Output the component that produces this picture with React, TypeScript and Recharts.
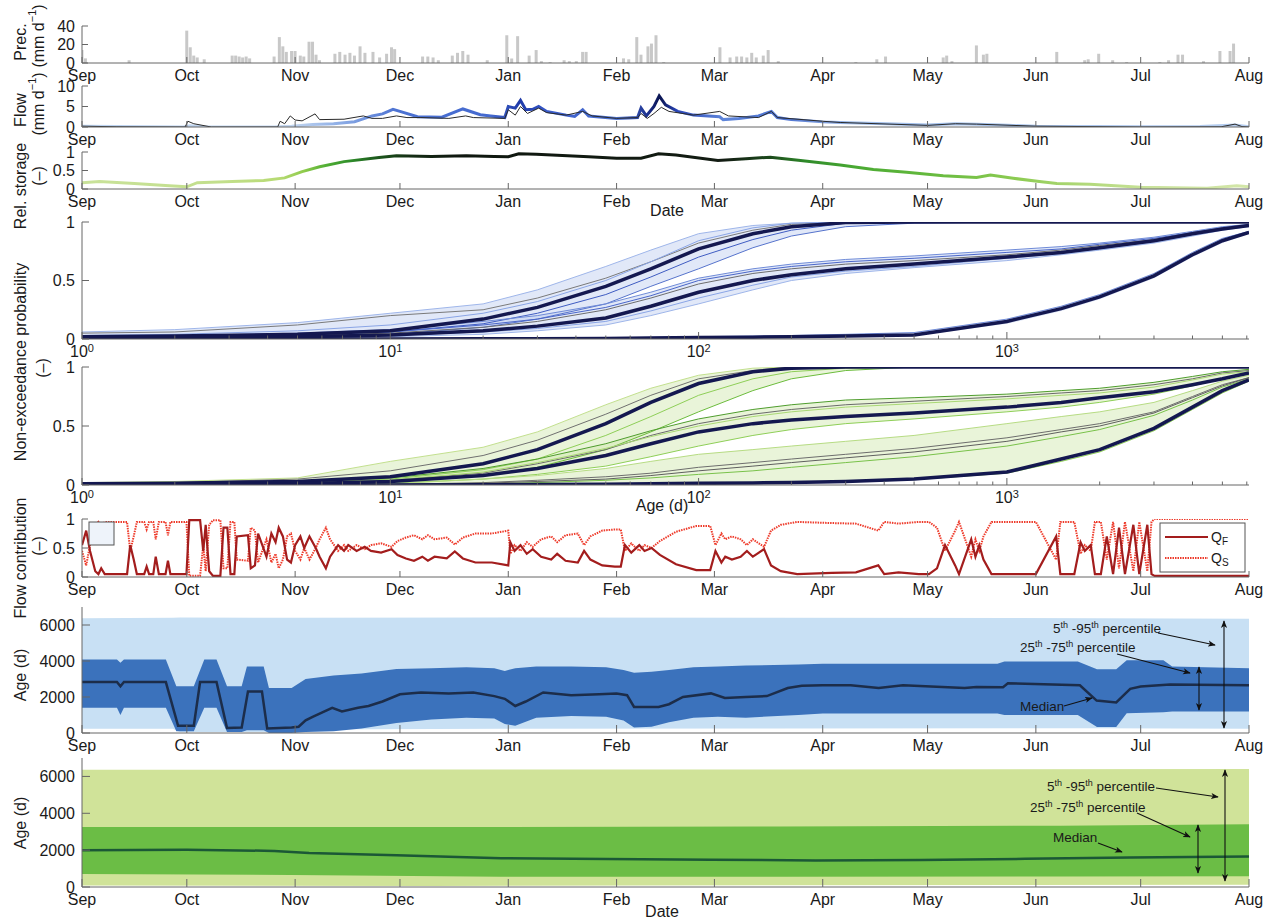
import React from "react";
import { ComposedChart, Line, Area, Bar, XAxis, YAxis } from "recharts";

const FONT = "'Liberation Sans', Arial, Helvetica, sans-serif";
const AXIS = "#666666";
const INK = "#1a1a1a";
const W = 1270;
const H = 918;
const LEFT = 82;
const RIGHT = 21;
const PAD_T = 8;
const X_H = 26;
const GAP_X = 7;
const GAP_Y = 7;

// ---------- axes ----------
const monthTicks = [0, 30, 61, 91, 122, 153, 181, 212, 242, 273, 303, 334];
const monthLabels = ["Sep", "Oct", "Nov", "Dec", "Jan", "Feb", "Mar", "Apr", "May", "Jun", "Jul", "Aug"];
const ageMajor = [1, 10, 100, 1000];
const ageExponents = ["0", "1", "2", "3"];
const ageTicks = [
  1, 2, 3, 4, 5, 6, 7, 8, 9, 10, 20, 30, 40, 50, 60, 70, 80, 90, 100, 200, 300, 400, 500, 600, 700, 800, 900,
  1000, 2000, 3000, 4000, 5000, 6000,
];

// ---------- panel 1: precipitation (day, mm/d) ----------
const precipitation = [
  [0, 14], [1, 5], [13.5, 3], [30, 35], [31, 17], [32, 8], [33, 6], [35, 4],
  [43, 8], [44, 8], [45, 7], [46, 6], [47, 7], [48, 5],
  [55, 7], [56.5, 28], [57.5, 18], [58.5, 12], [60, 13], [61, 13], [62.5, 8], [63.5, 7], [65, 23], [66, 23], [67, 9], [68, 3],
  [72.4, 10], [73.8, 12], [75.3, 9], [76.7, 11], [78, 8], [79.6, 18], [81, 11], [83.3, 12], [85.2, 6], [87.2, 10], [88.6, 17], [89.5, 15],
  [97.5, 7], [99, 7], [100.5, 6], [102, 3], [106, 8], [107.5, 11], [109, 13], [110.5, 9], [116, 3],
  [121.6, 30], [123, 5], [124.7, 29], [128, 8], [130, 14], [131.5, 2], [134, 1], [138, 3], [139.5, 2], [141.5, 2], [143.3, 12], [144.3, 12],
  [155, 5], [156.5, 4], [158.8, 28], [160, 9], [162, 18], [163, 21], [164.3, 30], [166.5, 1],
  [182.6, 17], [185.5, 6], [187.4, 7], [188.8, 7], [190.3, 6], [191.7, 11], [193, 6], [195, 8], [196.4, 14], [199.3, 2],
  [221.5, 1], [227.5, 4], [230, 7], [246.5, 6], [247.5, 8], [249, 2], [256, 19], [258, 9], [259, 10],
  [279, 12], [287, 3], [288, 4], [291, 10], [295, 3], [299, 1], [308.5, 1], [311, 3], [313.7, 9], [315, 9], [321, 2],
  [325.7, 13], [328.6, 13], [329.6, 21],
];

// ---------- panel 2: flow (day, mm/d) ----------
const flowSimulated = [
  [0, 0.2], [10, 0.1], [29, 0], [31, 0.3], [35, 0.05], [55, 0], [60, 0.2], [66, 0.6], [72, 0.8], [78, 1.3], [83, 2.7],
  [86, 3.2], [89, 4.3], [91, 3.8], [96, 2.5], [103, 2.4], [109, 4.4], [114, 3], [117, 2.7], [121, 2.3], [122, 5],
  [124, 4.6], [125.5, 6.5], [127, 4.2], [129, 4.3], [130.7, 5], [133, 3.8], [138.6, 2.9], [141, 2.6], [143.3, 4.2],
  [145, 2.7], [153, 2.1], [159, 2.3], [160, 4.6], [161.5, 2.7], [163.7, 5], [165.2, 7.6], [167, 5.4], [170.5, 3.8],
  [175, 2.9], [182.5, 2.5], [183.5, 1.8], [188, 2.1], [193.6, 2.7], [197.3, 3.8], [199, 2.3], [203, 1.8], [212, 1.25],
  [217, 1.1], [230, 0.8], [242, 0.5], [250, 0.8], [256, 0.7], [265, 0.4], [273, 0.2], [290, 0.1], [303, 0.05],
  [320, 0.1], [330, 0.5], [334, 0.05],
];
const flowObserved = [
  [0, 0.2], [10, 0.05], [29.5, 0], [30.3, 1.4], [32, 0.8], [37, 0], [56, 0], [56.7, 1.4], [58, 0.8], [59.6, 2.7],
  [61, 1.7], [63, 1.5], [66.7, 3.2], [68, 1.8], [75, 1.9], [80.5, 2.7], [83, 2.1], [86, 2.1], [90, 2.7], [93, 2.3],
  [97, 2.3], [105, 2.1], [109.8, 2.7], [112, 2.3], [121, 2.1], [122, 4.2], [124, 2.9], [125.5, 5], [127.5, 3.3],
  [130.7, 4.6], [133, 3.5], [138.6, 2.9], [143.3, 3.8], [146, 2.7], [153, 2.1], [159, 2.3], [160, 3.3], [161.8, 2.1],
  [163.7, 3.3], [165.8, 4.8], [168, 3.8], [175, 2.9], [182.5, 3.8], [185, 2.7], [193.6, 2.3], [197.3, 3.8], [199, 2.3],
  [212, 1.4], [217, 1.1], [242, 0.4], [250, 0.8], [256, 0.7], [273, 0.2], [303, 0], [326, 0.05], [330, 0.7],
  [332, 0.1], [334, 0],
];

// ---------- panel 3: relative storage (day, -) ----------
const relStorage = [
  [0, 0.17], [5, 0.2], [15, 0.15], [25, 0.09], [30, 0.06], [33, 0.17], [43, 0.2], [52, 0.23], [58, 0.3], [63, 0.47],
  [68, 0.6], [75, 0.74], [85, 0.85], [90, 0.9], [100, 0.88], [110, 0.9], [118, 0.88], [122, 0.87], [125, 0.95],
  [130, 0.94], [145, 0.87], [153, 0.83], [160, 0.83], [165, 0.95], [170, 0.92], [182, 0.77], [190, 0.82], [197, 0.86],
  [205, 0.78], [212, 0.7], [217, 0.65], [226.5, 0.53], [236, 0.45], [246.5, 0.36], [256, 0.31], [260, 0.38],
  [266.5, 0.29], [274, 0.2], [279, 0.15], [288.5, 0.13], [303, 0.05], [322, 0.02], [330.5, 0.09], [334, 0.06],
];

// ---------- panels 4-5: non-exceedance probability vs age ----------
const ageGrid = [1, 2, 5, 10, 20, 30, 50, 70, 100, 150, 200, 300, 500, 1000, 1500, 2000, 3000, 4000, 5000, 6100];

const nepBlueA = [0.02, 0.025, 0.04, 0.07, 0.17, 0.27, 0.45, 0.6, 0.77, 0.9, 0.96, 0.995, 1, 1, 1, 1, 1, 1, 1, 1];
const nepBlueAHi = [0.06, 0.08, 0.14, 0.22, 0.3, 0.42, 0.62, 0.76, 0.9, 0.97, 0.99, 1, 1, 1, 1, 1, 1, 1, 1, 1];
const nepBlueALo = [0.01, 0.015, 0.025, 0.04, 0.1, 0.17, 0.3, 0.45, 0.6, 0.78, 0.88, 0.96, 0.99, 1, 1, 1, 1, 1, 1, 1];
const nepBlueAGrey = [0.05, 0.06, 0.12, 0.2, 0.25, 0.35, 0.52, 0.66, 0.82, 0.93, 0.98, 1, 1, 1, 1, 1, 1, 1, 1, 1];
const nepBlueAMid1 = [0.03, 0.04, 0.07, 0.12, 0.22, 0.32, 0.5, 0.66, 0.84, 0.95, 0.99, 1, 1, 1, 1, 1, 1, 1, 1, 1];
const nepBlueAMid2 = [0.015, 0.02, 0.035, 0.06, 0.13, 0.22, 0.38, 0.53, 0.7, 0.85, 0.93, 0.99, 1, 1, 1, 1, 1, 1, 1, 1];
const nepBlueB = [0.01, 0.012, 0.02, 0.035, 0.07, 0.11, 0.18, 0.28, 0.4, 0.5, 0.55, 0.6, 0.64, 0.7, 0.74, 0.78, 0.84, 0.9, 0.94, 0.97];
const nepBlueBHi = [0.02, 0.03, 0.05, 0.08, 0.15, 0.2, 0.3, 0.4, 0.52, 0.6, 0.64, 0.68, 0.71, 0.76, 0.79, 0.82, 0.87, 0.92, 0.96, 0.98];
const nepBlueBLo = [0, 0.005, 0.01, 0.02, 0.04, 0.07, 0.12, 0.2, 0.3, 0.42, 0.5, 0.56, 0.61, 0.67, 0.72, 0.76, 0.82, 0.88, 0.93, 0.96];
const nepBlueBGrey = [0.01, 0.02, 0.03, 0.05, 0.1, 0.15, 0.25, 0.35, 0.47, 0.56, 0.6, 0.64, 0.67, 0.72, 0.76, 0.8, 0.85, 0.91, 0.95, 0.97];
const nepBlueBMid1 = [0.015, 0.02, 0.04, 0.06, 0.12, 0.17, 0.27, 0.37, 0.5, 0.58, 0.62, 0.66, 0.69, 0.74, 0.77, 0.81, 0.86, 0.91, 0.95, 0.975];
const nepBlueBMid2 = [0.005, 0.01, 0.015, 0.03, 0.06, 0.09, 0.15, 0.24, 0.35, 0.46, 0.53, 0.58, 0.62, 0.69, 0.73, 0.77, 0.83, 0.89, 0.935, 0.965];
const nepBlueC = [0, 0, 0, 0.001, 0.002, 0.003, 0.005, 0.008, 0.012, 0.015, 0.02, 0.025, 0.035, 0.15, 0.26, 0.36, 0.54, 0.72, 0.84, 0.91];
const nepBlueCHi = [0, 0, 0, 0.002, 0.004, 0.006, 0.01, 0.014, 0.02, 0.025, 0.03, 0.04, 0.055, 0.17, 0.28, 0.38, 0.56, 0.74, 0.86, 0.92];
const nepBlueCLo = [0, 0, 0, 0, 0, 0, 0.002, 0.004, 0.006, 0.008, 0.01, 0.015, 0.025, 0.13, 0.24, 0.34, 0.52, 0.7, 0.82, 0.9];

const nepGreenA = [0.01, 0.015, 0.03, 0.07, 0.18, 0.3, 0.52, 0.7, 0.86, 0.96, 0.99, 1, 1, 1, 1, 1, 1, 1, 1, 1];
const nepGreenAHi = [0.02, 0.03, 0.06, 0.2, 0.32, 0.45, 0.68, 0.82, 0.93, 0.99, 1, 1, 1, 1, 1, 1, 1, 1, 1, 1];
const nepGreenALo = [0, 0.005, 0.01, 0.03, 0.08, 0.15, 0.3, 0.45, 0.62, 0.8, 0.9, 0.97, 1, 1, 1, 1, 1, 1, 1, 1];
const nepGreenAGrey = [0.01, 0.02, 0.05, 0.12, 0.25, 0.38, 0.6, 0.76, 0.9, 0.97, 1, 1, 1, 1, 1, 1, 1, 1, 1, 1];
const nepGreenAMid = [0.005, 0.01, 0.02, 0.05, 0.13, 0.22, 0.42, 0.58, 0.76, 0.9, 0.96, 0.99, 1, 1, 1, 1, 1, 1, 1, 1];
const nepGreenB = [0, 0.005, 0.01, 0.03, 0.08, 0.14, 0.25, 0.35, 0.45, 0.52, 0.55, 0.58, 0.61, 0.66, 0.7, 0.74, 0.79, 0.85, 0.9, 0.95];
const nepGreenBHi = [0.01, 0.01, 0.03, 0.06, 0.14, 0.22, 0.35, 0.46, 0.56, 0.64, 0.68, 0.72, 0.74, 0.77, 0.8, 0.82, 0.87, 0.92, 0.96, 0.98];
const nepGreenBLo = [0, 0, 0.005, 0.015, 0.05, 0.09, 0.16, 0.24, 0.33, 0.42, 0.47, 0.52, 0.56, 0.62, 0.66, 0.7, 0.77, 0.84, 0.9, 0.94];
const nepGreenBGrey = [0, 0.01, 0.02, 0.04, 0.1, 0.18, 0.3, 0.42, 0.52, 0.6, 0.64, 0.68, 0.71, 0.75, 0.78, 0.8, 0.85, 0.9, 0.95, 0.97];
const nepGreenBMid = [0, 0.005, 0.015, 0.04, 0.11, 0.19, 0.31, 0.41, 0.5, 0.58, 0.62, 0.66, 0.69, 0.73, 0.76, 0.78, 0.83, 0.89, 0.94, 0.96];
const nepGreenC = [0, 0, 0, 0, 0.002, 0.004, 0.006, 0.01, 0.014, 0.018, 0.022, 0.03, 0.05, 0.11, 0.22, 0.3, 0.48, 0.66, 0.8, 0.89];
const nepGreenCHi = [0, 0, 0.005, 0.01, 0.05, 0.08, 0.14, 0.2, 0.26, 0.3, 0.33, 0.37, 0.42, 0.52, 0.58, 0.62, 0.7, 0.8, 0.88, 0.93];
const nepGreenCLo = [0, 0, 0, 0, 0.001, 0.002, 0.004, 0.006, 0.01, 0.014, 0.018, 0.025, 0.045, 0.1, 0.2, 0.28, 0.46, 0.64, 0.78, 0.88];
const nepGreenCGrey = [0, 0, 0.002, 0.005, 0.02, 0.04, 0.07, 0.1, 0.15, 0.19, 0.22, 0.26, 0.31, 0.4, 0.47, 0.52, 0.62, 0.75, 0.85, 0.91];
const nepGreenCGrey2 = [0, 0, 0, 0.002, 0.01, 0.02, 0.04, 0.06, 0.09, 0.12, 0.15, 0.19, 0.24, 0.33, 0.41, 0.47, 0.59, 0.72, 0.83, 0.9];
const nepGreenCMid = [0, 0, 0.001, 0.003, 0.015, 0.03, 0.05, 0.08, 0.12, 0.16, 0.19, 0.23, 0.28, 0.37, 0.45, 0.5, 0.61, 0.74, 0.84, 0.91];

// ---------- panel 6: flow contribution (day, QF, QS) ----------
const flowContribution = [
  [0, 0.55, 0.45], [1.2, 0.8, 0.2], [2.3, 0.45, 0.55], [3.8, 0.1, 0.9], [4.7, 0.05, 0.95], [5.5, 0.15, 0.85],
  [6.5, 0.05, 0.95], [12.9, 0.05, 0.95], [13.8, 0.55, 0.45], [14.8, 0.3, 0.7], [15.7, 0.05, 0.95], [17.8, 0.05, 0.95],
  [18.5, 0.18, 0.82], [19.2, 0.05, 0.95], [20.4, 0.05, 0.95], [21.1, 0.35, 0.65], [22, 0.05, 0.95], [23.9, 0.05, 0.95],
  [24.6, 0.28, 0.72], [25.3, 0.05, 0.95], [29.9, 0.05, 0.95], [30.7, 0.98, 0.02], [33.8, 0.98, 0.02], [34.7, 0.45, 0.55],
  [35.4, 0.9, 0.1], [36.4, 0.1, 0.9], [37.5, 0.02, 0.98], [39.6, 0.02, 0.98], [40.5, 0.85, 0.15], [41.6, 0.85, 0.15],
  [42.5, 0.05, 0.95], [43.6, 0.05, 0.95], [44.3, 0.7, 0.3], [47.5, 0.72, 0.28], [48.3, 0.15, 0.85], [49.5, 0.2, 0.8],
  [50.4, 0.75, 0.25], [51.6, 0.55, 0.45], [52.8, 0.35, 0.65], [54.2, 0.75, 0.25], [55.4, 0.6, 0.4], [56.3, 0.85, 0.15],
  [57.5, 0.7, 0.3], [58.7, 0.3, 0.7], [59.8, 0.25, 0.75], [61, 0.55, 0.45], [62.5, 0.7, 0.3], [63.6, 0.5, 0.5],
  [65.1, 0.7, 0.3], [66.9, 0.5, 0.5], [68, 0.35, 0.65], [69.8, 0.15, 0.85], [71, 0.35, 0.65], [73.3, 0.55, 0.45],
  [75, 0.45, 0.55], [76.2, 0.55, 0.45], [78.6, 0.45, 0.55], [80.9, 0.52, 0.48], [82.7, 0.45, 0.55], [85.6, 0.42, 0.58],
  [88.6, 0.48, 0.52], [90.3, 0.38, 0.62], [92.7, 0.32, 0.68], [95, 0.28, 0.72], [97.4, 0.35, 0.65], [99, 0.28, 0.72],
  [100.9, 0.35, 0.65], [104.4, 0.32, 0.68], [106.7, 0.44, 0.56], [109, 0.32, 0.68], [112.6, 0.25, 0.75],
  [117.3, 0.25, 0.75], [122, 0.2, 0.8], [122.6, 0.6, 0.4], [123.8, 0.45, 0.55], [125.5, 0.55, 0.45], [127.3, 0.4, 0.6],
  [129, 0.48, 0.52], [131.4, 0.35, 0.65], [134.3, 0.3, 0.7], [136, 0.4, 0.6], [138.4, 0.28, 0.72], [141.9, 0.25, 0.75],
  [143.7, 0.45, 0.55], [145.5, 0.3, 0.7], [148.9, 0.2, 0.8], [152.5, 0.18, 0.82], [154.2, 0.18, 0.82],
  [155.4, 0.55, 0.45], [157.2, 0.42, 0.58], [159.5, 0.55, 0.45], [161, 0.45, 0.55], [163, 0.5, 0.5], [165.4, 0.38, 0.62],
  [170, 0.22, 0.78], [175.8, 0.12, 0.88], [179.8, 0.12, 0.88], [181.3, 0.45, 0.55], [183, 0.25, 0.75], [184.1, 0.35, 0.65],
  [186, 0.3, 0.7], [188.5, 0.35, 0.65], [190.3, 0.45, 0.55], [192, 0.35, 0.65], [193.2, 0.4, 0.6], [195.2, 0.48, 0.52],
  [197.2, 0.2, 0.8], [200, 0.1, 0.9], [204.7, 0.05, 0.95], [214.6, 0.07, 0.93], [221.5, 0.08, 0.92], [227.9, 0.2, 0.8],
  [229.6, 0.05, 0.95], [233.7, 0.08, 0.92], [239.5, 0.05, 0.95], [242.4, 0.05, 0.95], [244.7, 0.15, 0.85],
  [247, 0.55, 0.45], [249.9, 0.2, 0.8], [251, 0.05, 0.95], [254.5, 0.65, 0.35], [255.7, 0.35, 0.65], [256.8, 0.55, 0.45],
  [258, 0.3, 0.7], [260.3, 0.05, 0.95], [273, 0.05, 0.95], [278.8, 0.7, 0.3], [280, 0.05, 0.95], [284, 0.05, 0.95],
  [285.8, 0.6, 0.4], [287, 0.45, 0.55], [288.7, 0.55, 0.45], [289.9, 0.05, 0.95], [291.6, 0.05, 0.95], [293.3, 0.7, 0.3],
  [295.1, 0.05, 0.95], [296.8, 0.85, 0.15], [298.5, 0.05, 0.95], [300.9, 0.9, 0.1], [302.6, 0.05, 0.95], [304.9, 0.9, 0.1],
  [306.1, 0.05, 0.95], [307, 0.02, 1], [334, 0.02, 1],
];

// ---------- panel 7: age percentiles, blue (day, low, high) ----------
const blueOuter = [
  [0, 240, 6380], [26, 240, 6400], [28, 60, 6420], [58, 50, 6400], [62, 200, 6400], [120, 230, 6420], [200, 250, 6400],
  [290, 260, 6380], [334, 240, 6350],
];
const blueInner = [
  [0, 1400, 4080], [10, 1400, 4080], [11, 1000, 3900], [12, 1400, 4080], [24, 1400, 4080], [27, 100, 2600],
  [32, 100, 2600], [35, 1400, 4080], [38.5, 1400, 4080], [41.5, 50, 2600], [45.7, 50, 2600], [47.2, 150, 3700],
  [52, 150, 3700], [53.5, 0, 2500], [60, 0, 2500], [64, 50, 3000], [72, 100, 3200], [80, 250, 3300], [90, 550, 3550],
  [100, 750, 3600], [110, 850, 3650], [118, 800, 3600], [121, 500, 3450], [124, 400, 3600], [130, 850, 3700],
  [140, 950, 3700], [150, 900, 3650], [155, 700, 3500], [158, 300, 3350], [163, 350, 3400], [168, 600, 3500],
  [175, 850, 3650], [182, 900, 3700], [190, 850, 3750], [205, 1000, 3800], [212, 1080, 3850], [230, 1080, 3850],
  [262, 1080, 3850], [264, 1000, 3970], [285, 1000, 3970], [290.5, 330, 3540], [296, 330, 3540], [299, 1100, 4040],
  [309.5, 1150, 4040], [312, 1200, 3700], [334, 1200, 3600],
];
const blueMedian = [
  [0, 2830], [10, 2830], [11, 2600], [12, 2830], [24, 2830], [27.5, 400], [32, 400], [33.8, 2830], [38.5, 2830],
  [41.5, 280], [45.7, 300], [47.5, 2300], [51.5, 2300], [53, 250], [60, 300], [62, 350], [64, 700], [66, 900],
  [71.6, 1400], [74.4, 1200], [79, 1400], [82, 1500], [86, 1750], [91, 2150], [97, 2250], [105, 2200], [112, 2250],
  [118, 2050], [121, 1900], [124, 1500], [127, 1750], [132, 2250], [140, 2100], [148, 2150], [153, 2200], [156, 2100],
  [158, 1450], [165, 1450], [168, 1600], [172, 2000], [180, 2200], [184, 1950], [190, 2000], [196, 2050], [202, 2500],
  [206, 2620], [212, 2650], [220, 2650], [228, 2500], [235, 2650], [252.6, 2500], [256, 2550], [263.6, 2540],
  [265, 2760], [285.6, 2650], [290.4, 1800], [296, 1700], [300, 2450], [303, 2580], [311.4, 2700], [334, 2650],
];

// ---------- panel 8: age percentiles, green ----------
const greenOuter = [[0, 80, 6360], [100, 60, 6370], [200, 100, 6380], [334, 120, 6400]];
const greenInner = [[0, 700, 3250], [60, 650, 3250], [120, 560, 3250], [200, 560, 3280], [280, 570, 3330], [334, 580, 3400]];
const greenMedian = [
  [0, 2000], [30, 2020], [55, 1960], [65, 1850], [90, 1720], [120, 1560], [150, 1520], [180, 1480], [210, 1440],
  [240, 1460], [270, 1530], [300, 1600], [334, 1660],
];

// ---------- helpers ----------
const series = (rows: number[][], col = 1) => rows.map((r) => ({ x: r[0], y: r[col] }));
const bandOf = (rows: number[][]) => rows.map((r) => ({ x: r[0], band: [r[1], r[2]] }));
const onGrid = (ys: number[]) => ys.map((y, i) => ({ x: ageGrid[i], y }));
const bandOnGrid = (lo: number[], hi: number[]) => ageGrid.map((x, i) => ({ x, band: [lo[i], hi[i]] }));

const precData = precipitation.map(([x, p]) => ({ x, p }));

function bottomTick(kind: string, len: number) {
  return (p: any) => {
    const v = p.payload.value;
    const major = kind === "date" || ageMajor.includes(v);
    const axisY = p.y - GAP_X;
    return (
      <g>
        <line x1={p.x} x2={p.x} y1={axisY} y2={axisY - (major ? len : len / 2)} stroke={AXIS} />
        {major && (
          <text x={p.x} y={p.y} dy="0.71em" textAnchor="middle" fontSize={16} fontFamily={FONT} fill={INK}>
            {kind === "date" ? (
              monthLabels[monthTicks.indexOf(v)]
            ) : (
              <>
                10
                <tspan dy="-0.45em" fontSize={11}>
                  {ageExponents[ageMajor.indexOf(v)]}
                </tspan>
              </>
            )}
          </text>
        )}
      </g>
    );
  };
}

function topTick(kind: string, len: number) {
  return (p: any) => {
    const major = kind === "date" || ageMajor.includes(p.payload.value);
    return <line x1={p.x} x2={p.x} y1={p.y} y2={p.y + (major ? len : len / 2)} stroke={AXIS} />;
  };
}

function leftTick(len: number) {
  return (p: any) => {
    const ax = p.x + GAP_Y;
    return (
      <g>
        <line x1={ax} x2={ax + len} y1={p.y} y2={p.y} stroke={AXIS} />
        <text x={p.x} y={p.y} dy="0.36em" textAnchor="end" fontSize={16} fontFamily={FONT} fill={INK}>
          {p.payload.value}
        </text>
      </g>
    );
  };
}

function rightTick(len: number) {
  return (p: any) => <line x1={p.x} x2={p.x - len} y1={p.y} y2={p.y} stroke={AXIS} />;
}

function frame(log: boolean, yDomain: number[], yTicks: number[], len = 6) {
  const kind = log ? "log" : "date";
  const xp: any = log
    ? { scale: "log", domain: [1, 6100], ticks: ageTicks }
    : { scale: "linear", domain: [0, 334], ticks: monthTicks };
  const common: any = { tickSize: 0, tickLine: false, axisLine: { stroke: AXIS }, interval: 0, allowDataOverflow: true, type: "number" };
  return [
    <XAxis key="xb" dataKey="x" {...common} {...xp} height={X_H} tickMargin={GAP_X} tick={bottomTick(kind, len)} />,
    <XAxis key="xt" xAxisId="top" orientation="top" dataKey="x" {...common} {...xp} height={0} tickMargin={0} tick={topTick(kind, len)} />,
    <YAxis key="yl" {...common} domain={yDomain} ticks={yTicks} width={LEFT} tickMargin={GAP_Y} tick={leftTick(len)} />,
    <YAxis key="yr" yAxisId="right" orientation="right" {...common} domain={yDomain} ticks={yTicks} width={0} tickMargin={0} tick={rightTick(len)} />,
  ];
}

function Panel({ top, bottom, data, children }: any) {
  const h = bottom - top + PAD_T + X_H;
  return (
    <div style={{ position: "absolute", left: 0, top: top - PAD_T }}>
      <ComposedChart width={W} height={h} data={data} margin={{ top: PAD_T, right: RIGHT, bottom: 0, left: 0 }}>
        {children}
      </ComposedChart>
    </div>
  );
}

const line = (key: string, data: any[], stroke: string, width: number, extra: any = {}) => (
  <Line
    key={key}
    data={data}
    dataKey="y"
    type="linear"
    stroke={stroke}
    strokeWidth={width}
    dot={false}
    activeDot={false}
    isAnimationActive={false}
    {...extra}
  />
);

const band = (key: string, data: any[], fill: string, opacity = 1) => (
  <Area
    key={key}
    data={data}
    dataKey="band"
    type="linear"
    stroke="none"
    fill={fill}
    fillOpacity={opacity}
    dot={false}
    activeDot={false}
    isAnimationActive={false}
  />
);

const NAVY = "#141850";

function nepSeries(prefix: string, green: boolean) {
  if (!green) {
    return [
      band(prefix + "ba", bandOnGrid(nepBlueALo, nepBlueAHi), "#b4c6ee", 0.4),
      band(prefix + "bb", bandOnGrid(nepBlueBLo, nepBlueBHi), "#b4c6ee", 0.4),
      band(prefix + "bc", bandOnGrid(nepBlueCLo, nepBlueCHi), "#b4c6ee", 0.5),
      line(prefix + "a1", onGrid(nepBlueAHi), "#9fb6ea", 1),
      line(prefix + "a2", onGrid(nepBlueALo), "#5673cc", 1),
      line(prefix + "a3", onGrid(nepBlueAGrey), "#7a7a7a", 1),
      line(prefix + "a4", onGrid(nepBlueAMid1), "#8aa5e6", 1),
      line(prefix + "a5", onGrid(nepBlueAMid2), "#3f5cc2", 1),
      line(prefix + "b1", onGrid(nepBlueBHi), "#6f8bd8", 1),
      line(prefix + "b2", onGrid(nepBlueBLo), "#9fb6ea", 1),
      line(prefix + "b3", onGrid(nepBlueBGrey), "#6d6d6d", 1),
      line(prefix + "b4", onGrid(nepBlueBMid1), "#4a66c8", 1),
      line(prefix + "b5", onGrid(nepBlueBMid2), "#8aa5e6", 1),
      line(prefix + "c1", onGrid(nepBlueCHi), "#6f8bd8", 1),
      line(prefix + "ta", onGrid(nepBlueA), NAVY, 3.5),
      line(prefix + "tb", onGrid(nepBlueB), NAVY, 3.5),
      line(prefix + "tc", onGrid(nepBlueC), NAVY, 3.5),
    ];
  }
  return [
    band(prefix + "ba", bandOnGrid(nepGreenALo, nepGreenAHi), "#cfe7aa", 0.45),
    band(prefix + "bb", bandOnGrid(nepGreenBLo, nepGreenBHi), "#cfe7aa", 0.45),
    band(prefix + "bc", bandOnGrid(nepGreenCLo, nepGreenCHi), "#cfe7aa", 0.45),
    line(prefix + "a1", onGrid(nepGreenAHi), "#c3e08f", 1),
    line(prefix + "a2", onGrid(nepGreenALo), "#6cbc3c", 1),
    line(prefix + "a3", onGrid(nepGreenAGrey), "#707070", 1),
    line(prefix + "a4", onGrid(nepGreenAMid), "#8fcf58", 1),
    line(prefix + "b1", onGrid(nepGreenBHi), "#4f9d2e", 1),
    line(prefix + "b2", onGrid(nepGreenBLo), "#8fcf58", 1),
    line(prefix + "b3", onGrid(nepGreenBGrey), "#6a6a6a", 1),
    line(prefix + "b4", onGrid(nepGreenBMid), "#a9d874", 1),
    line(prefix + "c1", onGrid(nepGreenCHi), "#b7dc84", 1),
    line(prefix + "c2", onGrid(nepGreenCGrey), "#6d6d6d", 1),
    line(prefix + "c3", onGrid(nepGreenCGrey2), "#79c24a", 1),
    line(prefix + "c4", onGrid(nepGreenCLo), "#8fcf58", 1),
    line(prefix + "c5", onGrid(nepGreenCMid), "#5f5f5f", 1),
    line(prefix + "ta", onGrid(nepGreenA), NAVY, 3.5),
    line(prefix + "tb", onGrid(nepGreenB), NAVY, 3.5),
    line(prefix + "tc", onGrid(nepGreenC), NAVY, 3.5),
  ];
}

function SupText({ x, y, parts }: { x: number; y: number; parts: [string, string][] }) {
  return (
    <text x={x} y={y} fontSize={13.5} fontFamily={FONT} fill={INK}>
      {parts.map(([base, sup], i) => (
        <React.Fragment key={i}>
          <tspan dy={i === 0 ? 0 : 5}>{base}</tspan>
          {sup && (
            <tspan dy={-5} fontSize={9}>
              {sup}
            </tspan>
          )}
        </React.Fragment>
      ))}
    </text>
  );
}

function Overlay() {
  const rot = (x: number, y: number, content: React.ReactNode) => (
    <text
      transform={`translate(${x},${y}) rotate(-90)`}
      textAnchor="middle"
      dominantBaseline="central"
      fontSize={16}
      fontFamily={FONT}
      fill={INK}
    >
      {content}
    </text>
  );
  const mmd = (
    <>
      (mm d
      <tspan dy={-6} fontSize={11}>
        −1
      </tspan>
      <tspan dy={6}>)</tspan>
    </>
  );
  const arrow = (x1: number, y1: number, x2: number, y2: number, both = false) => (
    <line
      x1={x1}
      y1={y1}
      x2={x2}
      y2={y2}
      stroke="#111"
      strokeWidth={1.1}
      markerEnd="url(#ah)"
      markerStart={both ? "url(#ah)" : undefined}
    />
  );
  const th = (a: string, b: string, c: string): [string, string][] => [
    [a, "th"],
    [" -" + b, "th"],
    [" " + c, ""],
  ];
  return (
    <svg
      width={W}
      height={H}
      style={{ position: "absolute", left: 0, top: 0, pointerEvents: "none" }}
    >
      <defs>
        <marker id="ah" viewBox="0 0 10 10" refX="9" refY="5" markerWidth="7" markerHeight="7" orient="auto-start-reverse">
          <path d="M0,1 L10,5 L0,9 L2.5,5 z" fill="#111" />
        </marker>
      </defs>
      {rot(20, 42, "Prec.")}
      {rot(38, 36, mmd)}
      {rot(20, 110, "Flow")}
      {rot(38, 104, mmd)}
      {rot(20, 186, "Rel. storage")}
      {rot(38, 176, "(–)")}
      {rot(20, 362, "Non-exceedance probability")}
      {rot(42, 368, "(–)")}
      {rot(20, 558, "Flow contribution")}
      {rot(38, 546, "(–)")}
      {rot(20, 675, "Age (d)")}
      {rot(20, 823, "Age (d)")}

      <text x={667} y={210} textAnchor="middle" dominantBaseline="central" fontSize={16} fontFamily={FONT} fill={INK}>
        Date
      </text>
      <text x={662} y={505} textAnchor="middle" dominantBaseline="central" fontSize={16} fontFamily={FONT} fill={INK}>
        Age (d)
      </text>
      <text x={662} y={911} textAnchor="middle" dominantBaseline="central" fontSize={16} fontFamily={FONT} fill={INK}>
        Date
      </text>

      {/* stray box in the flow-contribution panel */}
      <rect x={89} y={522} width={25} height={23} fill="#eef3fa" stroke="#555" strokeWidth={1} />

      {/* legend of the flow-contribution panel */}
      <rect x={1160} y={523} width={85} height={49} fill="#fff" stroke="#555" strokeWidth={1} />
      <line x1={1165} x2={1208} y1={537} y2={537} stroke="#a31d1d" strokeWidth={2.2} />
      <line x1={1165} x2={1208} y1={558} y2={558} stroke="#ee3b2b" strokeWidth={2} strokeDasharray="1.5 1" />
      <text x={1211} y={542} fontSize={14} fontFamily={FONT} fill={INK}>
        Q<tspan dy={3} fontSize={10}>F</tspan>
      </text>
      <text x={1211} y={563} fontSize={14} fontFamily={FONT} fill={INK}>
        Q<tspan dy={3} fontSize={10}>S</tspan>
      </text>

      {/* annotations, blue age panel */}
      <SupText x={1053} y={633} parts={th("5", "95", "percentile")} />
      <SupText x={1020} y={652} parts={th("25", "75", "percentile")} />
      <text x={1020} y={711} fontSize={13.5} fontFamily={FONT} fill={INK}>
        Median
      </text>
      {arrow(1158, 633, 1215, 645)}
      {arrow(1117, 654, 1190, 673)}
      {arrow(1064, 706, 1092, 698)}
      {arrow(1199, 667, 1199, 710, true)}
      {arrow(1224, 621, 1224, 728, true)}

      {/* annotations, green age panel */}
      <SupText x={1047} y={791} parts={th("5", "95", "percentile")} />
      <SupText x={1030} y={812} parts={th("25", "75", "percentile")} />
      <text x={1053} y={842} fontSize={13.5} fontFamily={FONT} fill={INK}>
        Median
      </text>
      {arrow(1156, 788, 1218, 797)}
      {arrow(1137, 813, 1190, 837)}
      {arrow(1098, 843, 1122, 852)}
      {arrow(1198, 825, 1198, 873, true)}
      {arrow(1225, 770, 1225, 881, true)}
    </svg>
  );
}

export default function App() {
  return (
    <div
      style={{
        position: "absolute",
        left: 0,
        top: 0,
        width: W,
        height: H,
        background: "#fff",
        overflow: "hidden",
        fontFamily: FONT,
      }}
    >
      {/* 1 precipitation */}
      <Panel top={26} bottom={63} data={precData}>
        {frame(false, [0, 40], [0, 20, 40])}
        <Bar dataKey="p" fill="#c8c8c8" barSize={3} isAnimationActive={false} />
      </Panel>

      {/* 2 flow */}
      <Panel top={86} bottom={127}>
        <defs>
          <linearGradient id="flowGrad" x1="0" y1="0" x2="1" y2="0">
            <stop offset="0" stopColor="#bcd3f0" />
            <stop offset="0.18" stopColor="#c2d6f0" />
            <stop offset="0.22" stopColor="#8eaee6" />
            <stop offset="0.27" stopColor="#4c72d2" />
            <stop offset="0.35" stopColor="#4469cf" />
            <stop offset="0.375" stopColor="#1f3aa8" />
            <stop offset="0.4" stopColor="#3a5ccb" />
            <stop offset="0.46" stopColor="#4e74d2" />
            <stop offset="0.485" stopColor="#1b2f8e" />
            <stop offset="0.495" stopColor="#0a1450" />
            <stop offset="0.51" stopColor="#2a46b8" />
            <stop offset="0.55" stopColor="#5f86da" />
            <stop offset="0.6" stopColor="#4a70d0" />
            <stop offset="0.66" stopColor="#9dbbe9" />
            <stop offset="1" stopColor="#b5cdef" />
          </linearGradient>
        </defs>
        {frame(false, [0, 10], [0, 5, 10])}
        {line("sim", series(flowSimulated), "url(#flowGrad)", 3)}
        {line("obs", series(flowObserved), "#2a2a2a", 1)}
      </Panel>

      {/* 3 relative storage */}
      <Panel top={152} bottom={189}>
        <defs>
          <linearGradient id="storGrad" x1="0" y1="0" x2="1" y2="0">
            <stop offset="0" stopColor="#c9e29a" />
            <stop offset="0.12" stopColor="#c2df8c" />
            <stop offset="0.17" stopColor="#b6da72" />
            <stop offset="0.19" stopColor="#8fcb4c" />
            <stop offset="0.21" stopColor="#4fae34" />
            <stop offset="0.23" stopColor="#2f8d2a" />
            <stop offset="0.25" stopColor="#1e5e1e" />
            <stop offset="0.28" stopColor="#152f15" />
            <stop offset="0.32" stopColor="#0f170f" />
            <stop offset="0.55" stopColor="#131c13" />
            <stop offset="0.59" stopColor="#1c4a1c" />
            <stop offset="0.62" stopColor="#2f8a2a" />
            <stop offset="0.66" stopColor="#48a832" />
            <stop offset="0.72" stopColor="#62b83c" />
            <stop offset="0.8" stopColor="#8ccb52" />
            <stop offset="0.86" stopColor="#b2d97a" />
            <stop offset="0.92" stopColor="#cbe39d" />
            <stop offset="1" stopColor="#d3e6a8" />
          </linearGradient>
        </defs>
        {frame(false, [0, 1], [0, 0.5, 1])}
        {line("stor", series(relStorage), "url(#storGrad)", 3)}
      </Panel>

      {/* 4 NEP, blue */}
      <Panel top={222} bottom={339}>
        {frame(true, [0, 1], [0, 0.5, 1], 7)}
        {nepSeries("b", false)}
      </Panel>

      {/* 5 NEP, green */}
      <Panel top={367} bottom={485}>
        {frame(true, [0, 1], [0, 0.5, 1], 7)}
        {nepSeries("g", true)}
      </Panel>

      {/* 6 flow contribution */}
      <Panel top={519} bottom={577}>
        {frame(false, [0, 1], [0, 0.5, 1])}
        {line("qs", series(flowContribution, 2), "#ee3b2b", 2, { strokeDasharray: "1.5 1" })}
        {line("qf", series(flowContribution, 1), "#a31d1d", 2.2)}
      </Panel>

      {/* 7 age, blue */}
      <Panel top={607} bottom={733}>
        {frame(false, [0, 7000], [0, 2000, 4000, 6000], 8)}
        {band("bo", bandOf(blueOuter), "#c8e0f4")}
        {band("bi", bandOf(blueInner), "#3b72bc")}
        {line("bm", series(blueMedian), "#1c2d4a", 2.5)}
      </Panel>

      {/* 8 age, green */}
      <Panel top={758} bottom={887}>
        {frame(false, [0, 7000], [0, 2000, 4000, 6000], 8)}
        {band("go", bandOf(greenOuter), "#d0e399")}
        {band("gi", bandOf(greenInner), "#6bbd45")}
        {line("gm", series(greenMedian), "#1b5836", 2.5)}
      </Panel>

      <Overlay />
    </div>
  );
}
